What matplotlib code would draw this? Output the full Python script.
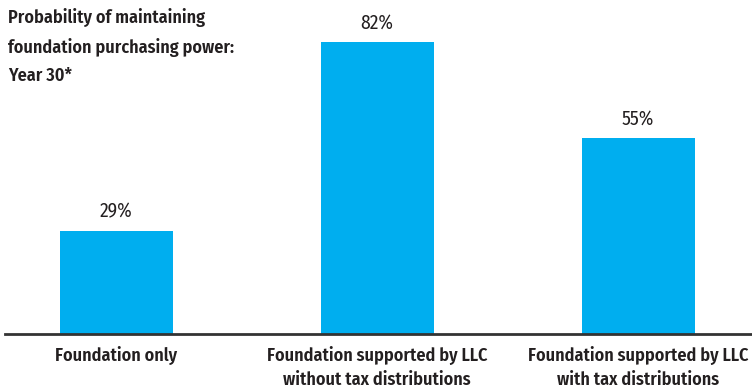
import matplotlib
matplotlib.use("Agg")
import matplotlib.pyplot as plt
from matplotlib import font_manager

categories = ["Foundation only",
              "Foundation supported by LLC\nwithout tax distributions",
              "Foundation supported by LLC\nwith tax distributions"]
values = [29, 82, 55]
value_labels = ["29%", "82%", "55%"]
title = "Probability of maintaining\nfoundation purchasing power:\nYear 30*"

names = {f.name for f in font_manager.fontManager.ttflist}
fam = next((n for n in ["Fira Sans Condensed", "Roboto Condensed", "PT Sans Narrow"]
            if n in names), "DejaVu Sans")
plt.rcParams['font.family'] = [fam, 'DejaVu Sans']

fig = plt.figure(figsize=(7.52, 3.89), dpi=100)
ax = fig.add_axes([5/752, (389-333.5)/389, 747/752, 319.5/389])
color = "#00AEEF"
txt = "#231f20"
x = list(range(len(categories)))
bars = ax.bar(x, values, width=0.433, color=color)
ax.set_xlim(-0.426, 2.436)
ax.set_ylim(0, 90)
for b, lab in zip(bars, value_labels):
    ax.annotate(lab, (b.get_x() + b.get_width()/2, b.get_height()),
                xytext=(0, 7), textcoords="offset points",
                ha="center", va="bottom", fontsize=14, color=txt)
for s in ["top", "right", "left"]:
    ax.spines[s].set_visible(False)
ax.spines["bottom"].set_linewidth(2)
ax.spines["bottom"].set_color("#333333")
ax.set_yticks([])
ax.set_xticks(x)
ax.set_xticklabels(categories, fontsize=13, fontweight="semibold", color=txt,
                   linespacing=1.35)
ax.tick_params(axis="x", length=0, pad=10)
fig.text(8/752, 1 - 9/389, title, ha="left", va="top", fontsize=13,
         fontweight="semibold", color=txt, linespacing=1.7)
fig.savefig("out.png", dpi=100)
